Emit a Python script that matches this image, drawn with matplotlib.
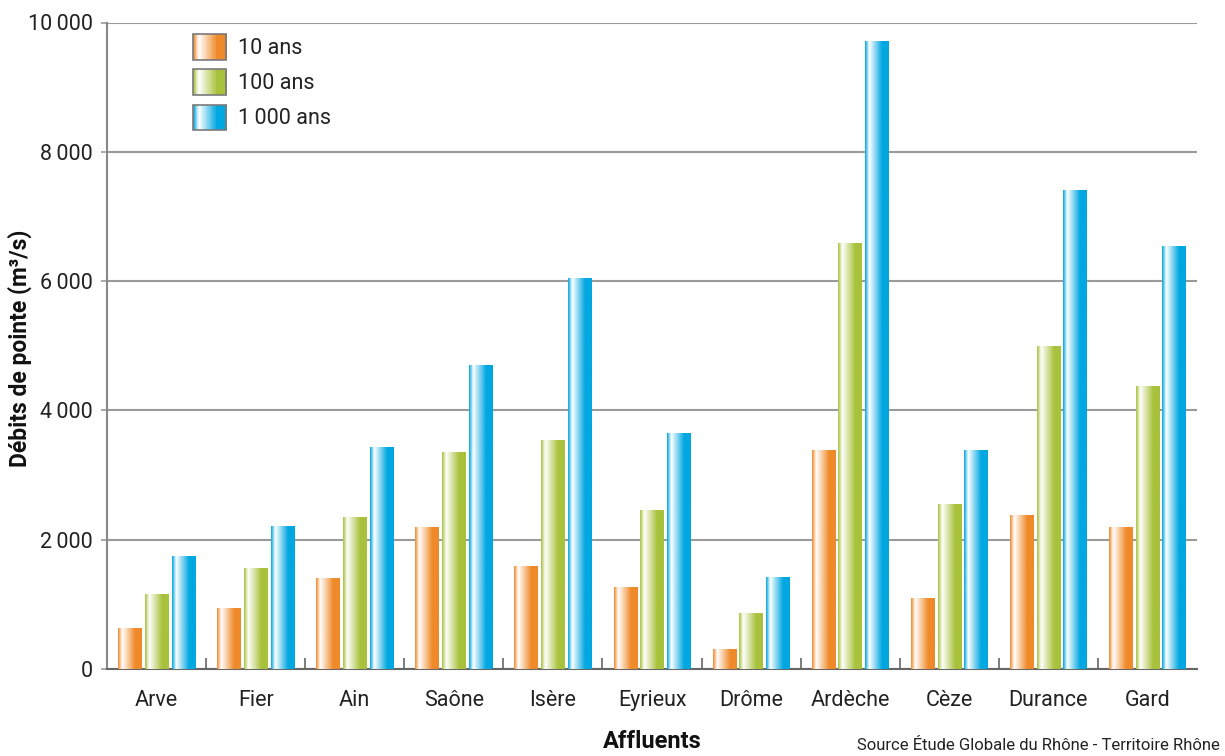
import numpy as np
import matplotlib
matplotlib.use("Agg")
import matplotlib.pyplot as plt
from matplotlib.colors import LinearSegmentedColormap, to_rgb
from matplotlib.legend_handler import HandlerBase
from matplotlib.patches import Rectangle
from matplotlib.ticker import FixedLocator, FuncFormatter

plt.rcParams['font.family'] = ['Roboto', 'DejaVu Sans']

categories = ["Arve", "Fier", "Ain", "Saône", "Isère", "Eyrieux", "Drôme",
              "Ardèche", "Cèze", "Durance", "Gard"]
series_names = ["10 ans", "100 ans", "1\u2009000 ans"]
q10 = [620, 940, 1400, 2190, 1590, 1265, 295, 3385, 1095, 2380, 2195]
q100 = [1150, 1560, 2345, 3350, 3535, 2455, 865, 6580, 2545, 4990, 4375]
q1000 = [1745, 2205, 3425, 4690, 6035, 3640, 1420, 9710, 3380, 7395, 6535]
yticks = [0, 2000, 4000, 6000, 8000, 10000]

base_colors = ["#EF8A2A", "#A8C23C", "#00A7E1"]


def make_cmap(c):
    r = np.array(to_rgb(c))
    w = np.array([1.0, 1.0, 1.0])
    edge = tuple(r * 0.75 + w * 0.25)
    stops = [(0.0, tuple(r)), (0.05, edge), (0.18, (1, 1, 1)),
             (0.72, tuple(r)), (1.0, tuple(r))]
    return LinearSegmentedColormap.from_list("g", stops)


cmaps = [make_cmap(c) for c in base_colors]

fig = plt.figure(figsize=(12.25, 7.56), dpi=100)
ax = fig.add_axes([107 / 1225, 1 - 669 / 756, 1090 / 1225, (669 - 22.5) / 756])

x = np.arange(len(categories))
width = 0.237
step = 0.27
series = [q10, q100, q1000]
grad = np.linspace(0, 1, 256).reshape(1, -1)
for k, (vals, cm) in enumerate(zip(series, cmaps)):
    bars = ax.bar(x + (k - 1) * step, vals, width, color='none', edgecolor='none')
    for b in bars:
        x0 = b.get_x()
        x1 = x0 + b.get_width()
        h = b.get_height()
        ax.imshow(grad, extent=[x0, x1, 0, h], aspect='auto', cmap=cm,
                  interpolation='bilinear', zorder=3)

ax.set_xlim(-0.5, len(categories) - 0.5)
ax.set_ylim(0, 10000)

ax.yaxis.set_major_locator(FixedLocator(yticks))
ax.yaxis.set_major_formatter(FuncFormatter(
    lambda v, p: f"{int(v):,}".replace(",", "\u2009")))
ax.grid(axis='y', color='#9a9a9a', linewidth=1.5, zorder=0)
ax.set_axisbelow(True)

ax.set_xticks(x)
ax.set_xticklabels(categories)
ax.xaxis.set_minor_locator(FixedLocator(np.arange(0.5, len(categories) - 1, 1.0)))
ax.tick_params(axis='x', which='major', length=0, pad=15, labelsize=15.5, labelcolor='#222222')
ax.tick_params(axis='x', which='minor', direction='in', length=8, width=1.2, color='#666666')
ax.tick_params(axis='y', which='major', length=4, width=1.2, color='#9a9a9a', pad=6,
               labelsize=15.5, labelcolor='#222222')

for s in ['top', 'right']:
    ax.spines[s].set_visible(False)
ax.spines['left'].set_color('#888888')
ax.spines['left'].set_linewidth(1.5)
ax.spines['bottom'].set_color('#666666')
ax.spines['bottom'].set_linewidth(1.5)

ax.set_ylabel("Débits de pointe (m³/s)", fontsize=16.5, fontweight='bold',
              color='#111111')
ax.yaxis.set_label_coords((32 - 107) / 1090, (669 - 348) / 646.5)
ax.set_xlabel("Affluents", fontsize=17, fontweight='bold', color='#111111', labelpad=14)


class GradHandler(HandlerBase):
    def __init__(self, cmap):
        super().__init__()
        self.cmap = cmap

    def create_artists(self, legend, orig_handle, xdescent, ydescent, width,
                       height, fontsize, trans):
        n = 40
        arts = []
        for i in range(n):
            r = Rectangle((-xdescent + i * width / n, -ydescent), width / n * 1.3, height,
                          facecolor=self.cmap((i + 0.5) / n), edgecolor='none',
                          linewidth=0, transform=trans)
            arts.append(r)
        arts.append(Rectangle((-xdescent, -ydescent), width, height, fill=False,
                              edgecolor='#7a7a7a', linewidth=1.2, transform=trans))
        return arts


handles = [Rectangle((0, 0), 1, 1) for _ in series_names]
leg = ax.legend(handles, series_names,
                handler_map={h: GradHandler(cm) for h, cm in zip(handles, cmaps)},
                loc='upper left', bbox_to_anchor=(193 / 1225, 1 - 34 / 756),
                bbox_transform=fig.transFigure, frameon=False, fontsize=15.5,
                handlelength=1.55, handleheight=1.45, labelspacing=0.45,
                handletextpad=0.55, borderpad=0, borderaxespad=0)
for t in leg.get_texts():
    t.set_color('#222222')

fig.text(1220 / 1225, 1 - 746 / 756, "Source Étude Globale du Rhône - Territoire Rhône",
         ha='right', va='center', fontsize=12, color='#222222')

fig.savefig("out.png", dpi=100)
